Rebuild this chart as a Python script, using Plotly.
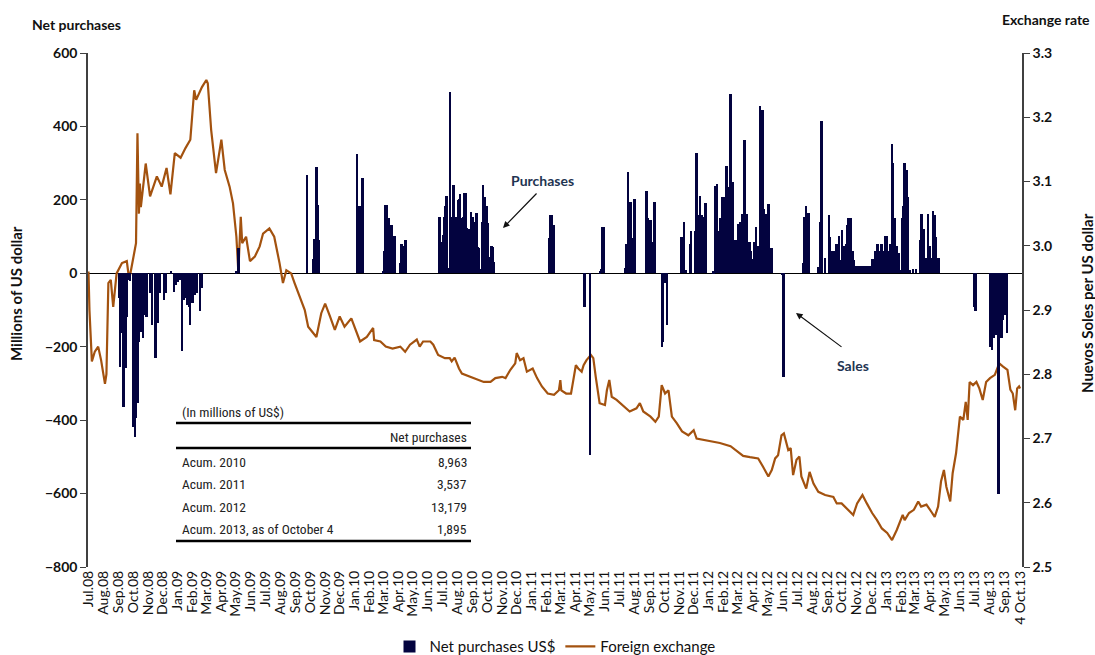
import pandas as pd
import plotly.graph_objects as go

# ---------------- Exchange rate (Nuevos Soles per US dollar) ----------------
fx_dates_2008 = ["2008-07-01", "2008-07-03", "2008-07-08", "2008-07-14", "2008-07-21", "2008-07-27",
                 "2008-08-04", "2008-08-07", "2008-08-11", "2008-08-16", "2008-08-21", "2008-08-28",
                 "2008-09-08", "2008-09-18", "2008-09-23", "2008-10-01", "2008-10-07", "2008-10-10",
                 "2008-10-13", "2008-10-15", "2008-10-17", "2008-10-27", "2008-11-02", "2008-11-05",
                 "2008-11-19", "2008-11-29", "2008-12-09", "2008-12-17", "2008-12-26"]
fx_rate_2008 = [2.96, 2.90, 2.82, 2.835, 2.843, 2.822, 2.785, 2.80, 2.942, 2.947, 2.905, 2.957,
                2.973, 2.976, 2.947, 2.978, 3.004, 3.175, 3.05, 3.097, 3.06, 3.128, 3.087, 3.077,
                3.108, 3.092, 3.121, 3.080, 3.144]

fx_dates_2009 = ["2009-01-07", "2009-01-17", "2009-01-27", "2009-02-04", "2009-02-08", "2009-02-20",
                 "2009-03-01", "2009-03-04", "2009-03-11", "2009-03-21", "2009-04-01", "2009-04-08",
                 "2009-04-18", "2009-04-25", "2009-05-02", "2009-05-06", "2009-05-11", "2009-05-14",
                 "2009-05-22", "2009-05-30", "2009-06-09", "2009-06-19", "2009-06-26", "2009-07-09",
                 "2009-07-19", "2009-07-30", "2009-08-06", "2009-08-13", "2009-08-23", "2009-08-30",
                 "2009-09-10", "2009-09-20", "2009-09-27", "2009-10-07", "2009-10-14", "2009-10-24",
                 "2009-11-01", "2009-11-11", "2009-11-21", "2009-12-01", "2009-12-11", "2009-12-25"]
fx_rate_2009 = [3.137, 3.152, 3.165, 3.242, 3.227, 3.247, 3.258, 3.253, 3.180, 3.113, 3.165, 3.118,
                3.092, 3.066, 3.014, 2.960, 3.045, 3.004, 3.014, 2.976, 2.983, 2.999, 3.019, 3.027,
                3.014, 2.973, 2.942, 2.962, 2.957, 2.942, 2.921, 2.900, 2.874, 2.864, 2.858, 2.895,
                2.910, 2.890, 2.869, 2.890, 2.874, 2.887]

fx_dates_2010 = ["2010-01-05", "2010-01-12", "2010-01-26", "2010-02-08", "2010-02-10", "2010-02-23",
                 "2010-03-06", "2010-03-20", "2010-04-05", "2010-04-15", "2010-04-25", "2010-05-09",
                 "2010-05-15", "2010-05-22", "2010-06-06", "2010-06-12", "2010-06-22", "2010-07-06",
                 "2010-07-16", "2010-07-20", "2010-07-26", "2010-08-04", "2010-08-10", "2010-08-27",
                 "2010-09-14", "2010-09-24", "2010-10-08", "2010-10-18", "2010-11-01", "2010-11-08",
                 "2010-11-18", "2010-11-28", "2010-12-01", "2010-12-08", "2010-12-15", "2010-12-22"]
fx_rate_2010 = [2.864, 2.851, 2.858, 2.872, 2.853, 2.851, 2.843, 2.840, 2.843, 2.835, 2.846, 2.854,
                2.843, 2.851, 2.851, 2.846, 2.830, 2.825, 2.825, 2.820, 2.826, 2.809, 2.801, 2.796,
                2.791, 2.788, 2.788, 2.794, 2.796, 2.794, 2.807, 2.817, 2.833, 2.822, 2.825, 2.804]

fx_dates_2011 = ["2011-01-03", "2011-01-12", "2011-01-22", "2011-02-03", "2011-02-16", "2011-02-26",
                 "2011-03-01", "2011-03-03", "2011-03-13", "2011-03-23", "2011-03-26", "2011-04-02",
                 "2011-04-07", "2011-04-14", "2011-04-18", "2011-04-24", "2011-05-03", "2011-05-08",
                 "2011-05-13", "2011-05-21", "2011-06-01", "2011-06-05", "2011-06-10", "2011-06-15",
                 "2011-06-25", "2011-07-08", "2011-07-22", "2011-08-05", "2011-08-12", "2011-08-19",
                 "2011-09-03", "2011-09-13", "2011-09-20", "2011-09-26", "2011-10-03", "2011-10-10",
                 "2011-10-17", "2011-10-27", "2011-11-07", "2011-11-20", "2011-12-01", "2011-12-07",
                 "2011-12-21"]
fx_rate_2011 = [2.809, 2.794, 2.781, 2.770, 2.768, 2.775, 2.791, 2.775, 2.770, 2.770, 2.783, 2.814,
                2.809, 2.804, 2.814, 2.822, 2.830, 2.825, 2.796, 2.755, 2.752, 2.775, 2.791, 2.765,
                2.760, 2.752, 2.742, 2.747, 2.755, 2.742, 2.734, 2.726, 2.734, 2.783, 2.770, 2.775,
                2.734, 2.724, 2.711, 2.705, 2.713, 2.700, 2.698]

fx_dates_2012 = ["2012-01-04", "2012-01-24", "2012-02-15", "2012-02-28", "2012-03-12", "2012-03-26",
                 "2012-04-12", "2012-04-22", "2012-05-03", "2012-05-10", "2012-05-17", "2012-05-23",
                 "2012-05-30", "2012-06-04", "2012-06-09", "2012-06-13", "2012-06-18", "2012-06-23",
                 "2012-06-30", "2012-07-06", "2012-07-10", "2012-07-20", "2012-07-27", "2012-08-04",
                 "2012-08-14", "2012-08-28", "2012-09-14", "2012-09-21", "2012-10-01", "2012-10-11",
                 "2012-10-25", "2012-11-02", "2012-11-13", "2012-11-22", "2012-12-03", "2012-12-13",
                 "2012-12-23"]
fx_rate_2012 = [2.696, 2.693, 2.688, 2.680, 2.673, 2.671, 2.669, 2.656, 2.641, 2.651, 2.669, 2.674,
                2.705, 2.708, 2.693, 2.682, 2.685, 2.643, 2.667, 2.672, 2.641, 2.622, 2.648, 2.630,
                2.617, 2.612, 2.609, 2.599, 2.599, 2.591, 2.581, 2.599, 2.612, 2.599, 2.584, 2.573,
                2.560]

fx_dates_2013 = ["2013-01-03", "2013-01-13", "2013-01-23", "2013-02-04", "2013-02-08", "2013-02-17",
                 "2013-02-27", "2013-03-08", "2013-03-14", "2013-03-25", "2013-04-04", "2013-04-11",
                 "2013-04-18", "2013-04-24", "2013-04-30", "2013-05-05", "2013-05-13", "2013-05-18",
                 "2013-05-25", "2013-06-02", "2013-06-09", "2013-06-14", "2013-06-18", "2013-06-22",
                 "2013-06-29", "2013-07-06", "2013-07-12", "2013-07-19", "2013-07-26", "2013-08-03",
                 "2013-08-13", "2013-08-22", "2013-08-30", "2013-09-08", "2013-09-14", "2013-09-19",
                 "2013-09-24", "2013-09-28", "2013-10-02", "2013-10-04"]
fx_rate_2013 = [2.553, 2.542, 2.558, 2.581, 2.573, 2.584, 2.589, 2.602, 2.594, 2.597, 2.586, 2.578,
                2.594, 2.633, 2.651, 2.625, 2.602, 2.646, 2.677, 2.734, 2.729, 2.757, 2.729, 2.788,
                2.783, 2.788, 2.778, 2.760, 2.788, 2.794, 2.799, 2.817, 2.812, 2.807, 2.776, 2.770,
                2.744, 2.778, 2.781, 2.778]

# ---------------- Net purchases (millions of US$) ----------------
np_dates_2008 = ["2008-09-03", "2008-09-05", "2008-09-08", "2008-09-12", "2008-09-14", "2008-09-16",
                 "2008-09-18", "2008-09-22", "2008-09-25", "2008-10-01", "2008-10-05", "2008-10-08",
                 "2008-10-11", "2008-10-13", "2008-10-16", "2008-10-19", "2008-10-22", "2008-10-26",
                 "2008-10-29", "2008-11-05", "2008-11-10", "2008-11-17", "2008-11-22", "2008-11-25",
                 "2008-12-04", "2008-12-08", "2008-12-19", "2008-12-25", "2008-12-28"]
np_vals_2008 = [-68, -254, -163, -363, -154, -259, -118, -18, -22, -418, -445, -395,
                -354, -186, -109, -159, -177, -114, -118, -54, -141, -232, -136, -54,
                -73, -54, 5, -50, -32]

np_dates_2009 = ["2009-01-02", "2009-01-06", "2009-01-10", "2009-01-15", "2009-01-19", "2009-01-22",
                 "2009-01-25", "2009-01-27", "2009-02-01", "2009-02-05", "2009-02-10", "2009-02-16",
                 "2009-02-21", "2009-05-02", "2009-05-07", "2009-09-25", "2009-10-07", "2009-10-10",
                 "2009-10-13", "2009-10-15", "2009-10-17", "2009-10-19"]
np_vals_2009 = [-23, -18, -213, -73, -68, -86, -91, -141, -82, -59, -54, -104,
                -41, 5, 68, 268, 38, 93, 93, 289, 186, 91]

np_dates_2010 = ["2010-01-06", "2010-01-09", "2010-01-13", "2010-01-16", "2010-01-18",
                 "2010-03-01", "2010-03-04", "2010-03-06", "2010-03-08", "2010-03-12", "2010-03-15",
                 "2010-03-18", "2010-03-20", "2010-03-23", "2010-03-26",
                 "2010-04-06", "2010-04-08", "2010-04-11", "2010-04-13", "2010-04-16",
                 "2010-06-25", "2010-06-27", "2010-06-30", "2010-07-02", "2010-07-05", "2010-07-07",
                 "2010-07-10", "2010-07-13", "2010-07-17", "2010-07-19", "2010-07-22", "2010-07-24",
                 "2010-07-27", "2010-07-30",
                 "2010-08-02", "2010-08-05", "2010-08-07", "2010-08-10", "2010-08-13", "2010-08-15",
                 "2010-08-18", "2010-08-21", "2010-08-24", "2010-08-26", "2010-08-29",
                 "2010-09-02", "2010-09-05", "2010-09-07", "2010-09-10", "2010-09-13", "2010-09-15",
                 "2010-09-18", "2010-09-21", "2010-09-23", "2010-09-26", "2010-09-28",
                 "2010-10-01", "2010-10-03", "2010-10-06", "2010-10-09", "2010-10-11", "2010-10-13",
                 "2010-10-16"]
np_vals_2010 = [325, 183, 182, 182, 259,
                5, 62, 186, 186, 150, 132, 132, 41, 102, 102,
                29, 80, 29, 73, 91,
                154, 86, 59, 104, 154, 184, 211, 14, 493, 154, 150, 241, 150, 154,
                200, 202, 216, 150, 153, 218, 218, 123, 120, 36, 168,
                154, 141, 132, 163, 71, 68, 11, 141, 241, 209, 141,
                182, 136, 45, 38, 73, 71, 32]

np_dates_2011 = ["2011-02-06", "2011-02-09", "2011-02-11", "2011-02-14", "2011-02-17",
                 "2011-04-20", "2011-05-02",
                 "2011-05-22", "2011-05-25", "2011-05-27", "2011-05-30",
                 "2011-07-13", "2011-07-16", "2011-07-19", "2011-07-22", "2011-07-25", "2011-07-28",
                 "2011-08-01",
                 "2011-08-26", "2011-08-29", "2011-09-01", "2011-09-04", "2011-09-07", "2011-09-12",
                 "2011-09-27", "2011-09-29", "2011-10-02", "2011-10-04", "2011-10-07",
                 "2011-11-06", "2011-11-09", "2011-11-12", "2011-11-15", "2011-11-24", "2011-11-26",
                 "2011-12-04", "2011-12-07", "2011-12-10", "2011-12-12", "2011-12-15", "2011-12-18",
                 "2011-12-20", "2011-12-23", "2011-12-26"]
np_vals_2011 = [95, 159, 159, 91, 132,
                -91, -495,
                5, 11, 125, 125,
                14, 80, 275, 193, 193, 95, 202,
                224, 150, 145, 145, 86, 193,
                -200, -186, -27, -27, -142,
                100, 9, 139, 9, 80, 115,
                115, 327, 120, 159, 211, 159, 120, 153, 191]

np_dates_2012 = ["2012-01-10", "2012-01-12", "2012-01-15", "2012-01-18", "2012-01-23", "2012-01-26",
                 "2012-01-29",
                 "2012-02-01", "2012-02-04", "2012-02-07", "2012-02-09", "2012-02-12", "2012-02-15",
                 "2012-02-18", "2012-02-21", "2012-02-23", "2012-02-26", "2012-02-29",
                 "2012-03-02", "2012-03-04", "2012-03-07", "2012-03-10", "2012-03-12", "2012-03-15",
                 "2012-03-18", "2012-03-20", "2012-03-23", "2012-03-26", "2012-03-29",
                 "2012-04-02", "2012-04-05", "2012-04-08", "2012-04-10", "2012-04-13", "2012-04-16",
                 "2012-04-18", "2012-04-21", "2012-04-24", "2012-04-26", "2012-04-29",
                 "2012-05-02", "2012-05-04", "2012-05-07", "2012-05-10",
                 "2012-06-01", "2012-06-03", "2012-06-04",
                 "2012-07-15", "2012-07-17", "2012-07-20", "2012-07-25",
                 "2012-08-14", "2012-08-18", "2012-08-21", "2012-08-28",
                 "2012-09-05", "2012-09-08", "2012-09-10", "2012-09-13", "2012-09-16", "2012-09-18",
                 "2012-09-21", "2012-09-24", "2012-09-26", "2012-09-29",
                 "2012-10-02", "2012-10-05", "2012-10-08", "2012-10-12", "2012-10-14", "2012-10-16",
                 "2012-10-18", "2012-10-21", "2012-10-24", "2012-10-26", "2012-10-29",
                 "2012-11-03", "2012-11-09", "2012-11-14", "2012-11-19", "2012-11-24", "2012-11-29",
                 "2012-12-03", "2012-12-06", "2012-12-10", "2012-12-13", "2012-12-16", "2012-12-20",
                 "2012-12-23", "2012-12-27", "2012-12-30"]
np_vals_2012 = [5, 5, 239, 243, 116, 150, 209,
                209, 71, 291, 71, 234, 489, 174, 248, 71, 91, 62,
                134, 62, 141, 161, 84, 362, 138, 162, 80, 86, 62,
                39, 86, 125, 71, 74, 456, 174, 445, 174, 159, 162,
                159, 189, 68, 68,
                -5, -116, -283,
                27, 154, 183, 163,
                16, 141, 415, 41,
                159, 100, 62, 62, 62, 36, 80, 36, 102, 36,
                118, 73, 35, 80, 132, 150, 150, 150, 62, 36, 20,
                20, 20, 20, 20, 20, 20,
                38, 38, 62, 80, 80, 62, 80, 62, 102]

np_dates_2013 = ["2013-01-03", "2013-01-06", "2013-01-10", "2013-01-13", "2013-01-16", "2013-01-19",
                 "2013-01-22", "2013-01-24", "2013-01-27", "2013-01-30",
                 "2013-02-03", "2013-02-05", "2013-02-08", "2013-02-11", "2013-02-13", "2013-02-16",
                 "2013-02-19", "2013-02-26",
                 "2013-03-04", "2013-03-12", "2013-03-15", "2013-03-18", "2013-03-20", "2013-03-23",
                 "2013-03-26", "2013-03-29",
                 "2013-04-01", "2013-04-04", "2013-04-08", "2013-04-11", "2013-04-13", "2013-04-16",
                 "2013-04-19",
                 "2013-07-03", "2013-07-05",
                 "2013-08-03", "2013-08-05", "2013-08-08", "2013-08-11", "2013-08-13", "2013-08-16",
                 "2013-08-19", "2013-08-21", "2013-08-24", "2013-08-27", "2013-08-30",
                 "2013-09-03", "2013-09-05", "2013-09-08"]
np_vals_2013 = [102, 62, 80, 351, 300, 150, 54, 75, 54, 9,
                150, 182, 300, 120, 280, 209, 9, 11,
                11, 91, 162, 41, 120, 41, 41, 162,
                73, 41, 169, 159, 100, 41, 41,
                -91, -102,
                -182, -200, -209, -177, -168, -118, -168, -600, -141, -177, -127,
                -114, -41, -162]

# ---------------- Axis tick labels ----------------
tick_labels = ["Jul.08", "Aug.08", "Sep.08", "Oct.08", "Nov.08", "Dec.08",
               "Jan.09", "Feb.09", "Mar.09", "Apr.09", "May.09", "Jun.09",
               "Jul.09", "Aug.09", "Sep.09", "Oct.09", "Nov.09", "Dec.09",
               "Jan.10", "Feb.10", "Mar.10", "Apr.10", "May.10", "Jun.10",
               "Jul.10", "Aug.10", "Sep.10", "Oct.10", "Nov.10", "Dec.10",
               "Jan.11", "Feb.11", "Mar.11", "Apr.11", "May.11", "Jun.11",
               "Jul.11", "Aug.11", "Sep.11", "Oct.11", "Nov.11", "Dec.11",
               "Jan.12", "Feb.12", "Mar.12", "Apr.12", "May.12", "Jun.12",
               "Jul.12", "Aug.12", "Sep.12", "Oct.12", "Nov.12", "Dec.12",
               "Jan.13", "Feb.13", "Mar.13", "Apr.13", "May.13", "Jun.13",
               "Jul.13", "Aug.13", "Sep.13", "4 Oct.13"]

# Summary table
table_rows = ["Acum. 2010", "Acum. 2011", "Acum. 2012", "Acum. 2013, as of October 4"]
table_vals = ["8,963", "3,537", "13,179", "1,895"]

# ---------------- Assemble ----------------
fx_dates = fx_dates_2008 + fx_dates_2009 + fx_dates_2010 + fx_dates_2011 + fx_dates_2012 + fx_dates_2013
fx_rate = fx_rate_2008 + fx_rate_2009 + fx_rate_2010 + fx_rate_2011 + fx_rate_2012 + fx_rate_2013
np_dates = np_dates_2008 + np_dates_2009 + np_dates_2010 + np_dates_2011 + np_dates_2012 + np_dates_2013
np_vals = np_vals_2008 + np_vals_2009 + np_vals_2010 + np_vals_2011 + np_vals_2012 + np_vals_2013
assert len(fx_dates) == len(fx_rate)
assert len(np_dates) == len(np_vals)

tick_vals = [d.strftime("%Y-%m-%d") for d in pd.date_range("2008-07-01", "2013-09-01", freq="MS")]
tick_vals.append("2013-10-04")

BAR_COLOR = "#03033F"
LINE_COLOR = "#A3520F"
AXIS_COLOR = "#404040"
FONT = "Lato, 'Open Sans', sans-serif"
NARROW = "'Liberation Sans Narrow', 'Arial Narrow', 'Roboto Condensed', 'Liberation Sans', sans-serif"
DAY_MS = 86400000

fig = go.Figure()
fig.add_trace(go.Bar(
    x=pd.to_datetime(np_dates), y=np_vals, name="Net purchases US$",
    marker=dict(color=BAR_COLOR, line=dict(width=0)),
    width=[4 * DAY_MS] * len(np_vals),
    yaxis="y2",
))
fig.add_trace(go.Scatter(
    x=pd.to_datetime(fx_dates), y=fx_rate, name="Foreign exchange", mode="lines",
    line=dict(color=LINE_COLOR, width=2.2),
    yaxis="y",
))

def px(xp):
    return (xp - 88) / 934.0

def py(yp):
    return (567 - yp) / 514.0

annotations = [
    dict(text="Net purchases", x=px(30), y=py(25), xref="paper", yref="paper",
         xanchor="left", yanchor="middle", showarrow=False,
         font=dict(family=FONT, size=14, color="#111", weight="bold")),
    dict(text="Exchange rate", x=px(1000), y=py(19), xref="paper", yref="paper",
         xanchor="left", yanchor="middle", showarrow=False,
         font=dict(family=FONT, size=14, color="#111", weight="bold")),
    dict(text="Millions of US dollar", x=px(16), y=py(294), xref="paper", yref="paper",
         xanchor="center", yanchor="middle", textangle=-90, showarrow=False,
         font=dict(family=FONT, size=15, color="#111", weight="bold")),
    dict(text="Nuevos Soles per US dollar", x=px(1087), y=py(303), xref="paper", yref="paper",
         xanchor="center", yanchor="middle", textangle=-90, showarrow=False,
         font=dict(family=FONT, size=15, color="#111", weight="bold")),
    dict(text="Purchases", x=px(542), y=py(180), xref="paper", yref="paper",
         xanchor="center", yanchor="middle", showarrow=False,
         font=dict(family=FONT, size=14, color="#1F3552", weight="bold")),
    dict(text="", x=px(503), y=py(228), xref="paper", yref="paper",
         ax=35, ay=-36, showarrow=True, arrowhead=2, arrowsize=1.1, arrowwidth=1.2,
         arrowcolor="#111"),
    dict(text="Sales", x=px(853), y=py(365), xref="paper", yref="paper",
         xanchor="center", yanchor="middle", showarrow=False,
         font=dict(family=FONT, size=14, color="#1F3552", weight="bold")),
    dict(text="", x=px(796), y=py(313), xref="paper", yref="paper",
         ax=47, ay=35, showarrow=True, arrowhead=2, arrowsize=1.1, arrowwidth=1.2,
         arrowcolor="#111"),
    dict(text="(In millions of US$)", x=px(180), y=py(412), xref="paper", yref="paper",
         xanchor="left", yanchor="middle", showarrow=False,
         font=dict(family=NARROW, size=13.5, color="#222")),
    dict(text="Net purchases", x=px(469), y=py(437), xref="paper", yref="paper",
         xanchor="right", yanchor="middle", showarrow=False,
         font=dict(family=NARROW, size=13.5, color="#222")),
]
row_y = [462, 484, 507, 529]
for label, val, yy in zip(table_rows, table_vals, row_y):
    annotations.append(dict(text=label, x=px(180), y=py(yy), xref="paper", yref="paper",
                            xanchor="left", yanchor="middle", showarrow=False,
                            font=dict(family=NARROW, size=13.5, color="#222")))
    annotations.append(dict(text=val, x=px(469), y=py(yy), xref="paper", yref="paper",
                            xanchor="right", yanchor="middle", showarrow=False,
                            font=dict(family=NARROW, size=13.5, color="#222")))

shapes = []
for yy in [423, 448, 541]:
    shapes.append(dict(type="line", xref="paper", yref="paper", x0=px(176), x1=px(471),
                       y0=py(yy), y1=py(yy), line=dict(color="black", width=2.5)))

fig.update_layout(
    width=1095, height=655,
    margin=dict(l=88, r=73, t=53, b=88, autoexpand=False),
    plot_bgcolor="white", paper_bgcolor="white",
    bargap=0,
    showlegend=True,
    legend=dict(orientation="h", x=0.5, xanchor="center", y=-0.155, yanchor="middle",
                font=dict(family=FONT, size=15, color="#111"), bgcolor="rgba(0,0,0,0)",
                itemwidth=30),
    xaxis=dict(type="date", range=["2008-06-30", "2013-10-08"],
               tickmode="array", tickvals=tick_vals, ticktext=tick_labels, tickangle=-90,
               tickfont=dict(family=FONT, size=14, color="#111"),
               showgrid=False, showline=False, zeroline=False, ticks=""),
    yaxis=dict(range=[2.5, 3.3], side="right", tickmode="linear", tick0=2.5, dtick=0.1,
               tickformat=".1f", showgrid=False, zeroline=False,
               showline=True, linecolor=AXIS_COLOR, linewidth=1.5,
               ticks="outside", ticklen=6, tickcolor=AXIS_COLOR,
               tickfont=dict(family=FONT, size=14, color="#111", weight="bold")),
    yaxis2=dict(range=[-800, 600], overlaying="y", side="left", anchor="x",
                tickmode="linear", tick0=-800, dtick=200, showgrid=False,
                zeroline=True, zerolinecolor="black", zerolinewidth=1.3,
                showline=True, linecolor=AXIS_COLOR, linewidth=1.5,
                ticks="outside", ticklen=6, tickcolor=AXIS_COLOR,
                tickfont=dict(family=FONT, size=14, color="#111", weight="bold")),
    annotations=annotations,
    shapes=shapes,
)

# remove the default page margin so the 1095x655 figure fills the window exactly
fig.write_html(
    "out.html",
    config={"displayModeBar": False},
    post_script="document.body.style.margin='0';document.body.style.padding='0';"
                "document.body.style.overflow='hidden';",
)
